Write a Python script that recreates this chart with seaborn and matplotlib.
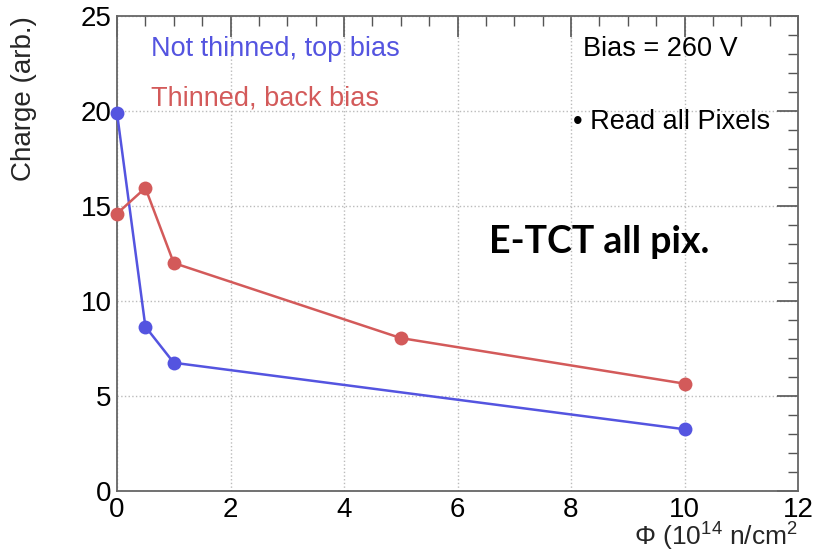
import matplotlib
matplotlib.use("Agg")
import matplotlib.pyplot as plt
import seaborn as sns
import pandas as pd
from matplotlib.ticker import MultipleLocator

# Data
fluence_blue = [0, 0.5, 1, 10]
charge_blue = [19.9, 8.65, 6.75, 3.25]
fluence_red = [0, 0.5, 1, 5, 10]
charge_red = [14.6, 15.95, 12.0, 8.05, 5.65]
label_blue = "Not thinned, top bias"
label_red = "Thinned, back bias"

blue = "#5454e0"
red = "#d35a5a"

sns.set_theme(style="white")
plt.rcParams['font.family'] = ['Liberation Sans', 'DejaVu Sans']
plt.rcParams['mathtext.fontset'] = 'custom'
plt.rcParams['mathtext.rm'] = 'Liberation Sans'
plt.rcParams['mathtext.it'] = 'Liberation Sans'

fig = plt.figure(figsize=(8.17, 5.55), dpi=100)
ax = fig.add_axes([117/817, 64/555, (798-117)/817, (491-16)/555])

df_b = pd.DataFrame({"x": fluence_blue, "y": charge_blue})
df_r = pd.DataFrame({"x": fluence_red, "y": charge_red})
sns.lineplot(data=df_b, x="x", y="y", ax=ax, color=blue, marker="o", markersize=10,
             markeredgewidth=0, linewidth=1.8, clip_on=False, zorder=3)
sns.lineplot(data=df_r, x="x", y="y", ax=ax, color=red, marker="o", markersize=10,
             markeredgewidth=0, linewidth=1.8, clip_on=False, zorder=3)

ax.set_xlim(0, 12)
ax.set_ylim(0, 25)
ax.xaxis.set_major_locator(MultipleLocator(2))
ax.xaxis.set_minor_locator(MultipleLocator(0.5))
ax.yaxis.set_major_locator(MultipleLocator(5))
ax.yaxis.set_minor_locator(MultipleLocator(1))
ax.tick_params(which="both", direction="in", top=True, right=True, colors="#555555",
               labelcolor="black", labelsize=20)
ax.tick_params(which="major", length=15, width=1.2)
ax.tick_params(which="minor", length=7.5, width=1.0)
ax.tick_params(axis="y", pad=4)
ax.tick_params(axis="x", pad=4)
ax.grid(True, which="major", color="#bbbbbb", linestyle=":", linewidth=1.0)
for s in ax.spines.values():
    s.set_color("#666666")
    s.set_linewidth(1.3)

ax.set_xlabel(r"Φ (10$^{14}$ n/cm$^{2}$", fontsize=19, loc="right", labelpad=-1)
ax.set_ylabel("Charge (arb.)", fontsize=20, loc="top", labelpad=31)

ax.text(0.05, 0.93, label_blue, transform=ax.transAxes, color=blue, fontsize=19.5,
        va="center", ha="left")
ax.text(0.05, 0.827, label_red, transform=ax.transAxes, color=red, fontsize=19.5,
        va="center", ha="left")
ax.text(0.684, 0.93, "Bias = 260 V", transform=ax.transAxes, color="black", fontsize=19.5,
        va="center", ha="left")
ax.text(0.67, 0.776, "• Read all Pixels", transform=ax.transAxes, color="black", fontsize=19.5,
        va="center", ha="left")
ax.text(0.546, 0.524, "E-TCT all pix.", transform=ax.transAxes, color="black", fontsize=27,
        fontweight="bold", family=["Lato", "DejaVu Sans"], va="center", ha="left")

fig.savefig("out.png", dpi=100)
